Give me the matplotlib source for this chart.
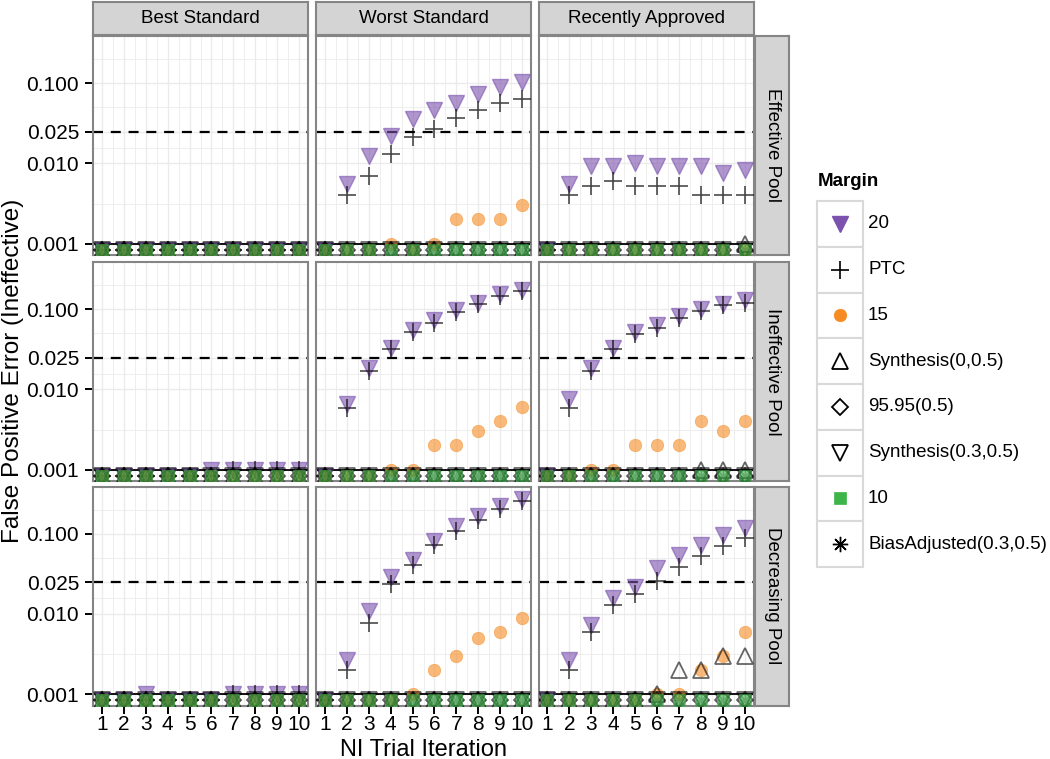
import numpy as np
import matplotlib.pyplot as plt
from matplotlib.patches import Rectangle

plt.rcParams['font.family'] = ['Liberation Sans', 'DejaVu Sans']

# ---- data -------------------------------------------------------------
iterations = np.arange(1, 11)
col_labels = ["Best Standard", "Worst Standard", "Recently Approved"]
row_labels = ["Effective Pool", "Ineffective Pool", "Decreasing Pool"]
margins = ["20", "PTC", "15", "Synthesis(0,0.5)", "95.95(0.5)",
           "Synthesis(0.3,0.5)", "10", "BiasAdjusted(0.3,0.5)"]

# each margin: 9 panels, row-major (Effective, Ineffective, Decreasing) x
# (Best, Worst, Recently Approved); 0 means no false positives
Z = [0, 0, 0, 0, 0, 0, 0, 0, 0, 0]

m20 = [
    Z,
    [0, 0.0055, 0.0123, 0.0219, 0.0358, 0.047, 0.057, 0.073, 0.089, 0.104],
    [0, 0.0055, 0.0094, 0.0094, 0.0102, 0.0093, 0.0093, 0.0093, 0.0076, 0.0083],
    [0, 0, 0, 0, 0, 0.001, 0.001, 0.001, 0.001, 0.001],
    [0, 0.0065, 0.0187, 0.0332, 0.055, 0.073, 0.098, 0.121, 0.154, 0.173],
    [0, 0.0075, 0.0187, 0.0332, 0.052, 0.063, 0.083, 0.100, 0.118, 0.131],
    [0, 0, 0.001, 0, 0, 0, 0.001, 0.001, 0.001, 0.001],
    [0, 0.0027, 0.011, 0.0287, 0.047, 0.081, 0.124, 0.166, 0.220, 0.274],
    [0, 0.0027, 0.0073, 0.0157, 0.022, 0.038, 0.055, 0.0735, 0.098, 0.118],
]
ptc = [
    Z,
    [0, 0.004, 0.0069, 0.0132, 0.0213, 0.027, 0.0365, 0.047, 0.057, 0.063],
    [0, 0.004, 0.0052, 0.006, 0.0052, 0.0052, 0.0052, 0.004, 0.004, 0.004],
    [0, 0, 0, 0, 0, 0, 0.001, 0.001, 0.001, 0.001],
    [0, 0.0059, 0.0168, 0.0322, 0.0516, 0.0675, 0.0917, 0.1155, 0.147, 0.168],
    [0, 0.0059, 0.0168, 0.032, 0.0487, 0.058, 0.078, 0.095, 0.112, 0.120],
    [0, 0, 0, 0, 0, 0, 0.001, 0.001, 0.001, 0.001],
    [0, 0.002, 0.0078, 0.0237, 0.041, 0.072, 0.109, 0.151, 0.205, 0.256],
    [0, 0.002, 0.006, 0.013, 0.0176, 0.026, 0.0387, 0.053, 0.071, 0.088],
]
m15 = [
    Z,
    [0, 0, 0, 0.001, 0, 0.001, 0.002, 0.002, 0.002, 0.003],
    Z,
    Z,
    [0, 0, 0, 0.001, 0.001, 0.002, 0.002, 0.003, 0.004, 0.006],
    [0, 0, 0.001, 0.001, 0.002, 0.002, 0.002, 0.004, 0.003, 0.004],
    Z,
    [0, 0, 0, 0, 0.001, 0.002, 0.003, 0.005, 0.006, 0.009],
    [0, 0, 0, 0, 0, 0.001, 0.001, 0.002, 0.003, 0.006],
]
syn0 = [
    Z,
    Z,
    [0, 0, 0, 0, 0, 0, 0, 0, 0, 0.001],
    Z,
    Z,
    [0, 0, 0, 0, 0, 0, 0, 0.001, 0.001, 0.001],
    Z,
    Z,
    [0, 0, 0, 0, 0, 0.001, 0.002, 0.002, 0.003, 0.003],
]
m9595 = [Z, Z, Z, Z, Z, Z, Z, Z, Z]
syn03 = [Z, Z, Z, Z, Z, Z, Z, Z, Z]
m10 = [Z, Z, Z, Z, Z, Z, Z, Z, Z]
bias = [Z, Z, Z, Z, Z, Z, Z, Z, Z]

series = [m20, ptc, m15, syn0, m9595, syn03, m10, bias]

# ---- styles -----------------------------------------------------------
purple = '#7b52ae'
orange = '#f58b23'
green = '#3db54a'
styles = [
    dict(marker='v', ms=12, mfc=purple, mec=purple, mew=1.0),
    dict(marker='+', ms=13.5, mfc='none', mec='black', mew=1.2),
    dict(marker='o', ms=9, mfc=orange, mec=orange, mew=0.5),
    dict(marker='^', ms=11.5, mfc='none', mec='black', mew=1.3),
    dict(marker='D', ms=8.5, mfc='none', mec='black', mew=1.3),
    dict(marker='v', ms=11.5, mfc='none', mec='black', mew=1.3),
    dict(marker='s', ms=8.5, mfc=green, mec=green, mew=0.5),
    dict(marker=(8, 2, 0), ms=11, mfc='none', mec='black', mew=1.0),
]
alphas = [0.6, 0.7, 0.6, 0.6, 0.6, 0.6, 0.6, 0.35]
# green squares go on top so the zero clumps look olive like the original
draw_order = [0, 1, 2, 3, 4, 5, 7, 6]

ZERO_LEVEL = 0.00084
YLIM = (0.00072, 0.39)
major_y = [0.001, 0.01, 0.025, 0.1]
major_labels = ['0.001', '0.010', '0.025', '0.100']
minor_y = [10 ** -2.5, 10 ** -1.801, 10 ** -1.301, 10 ** -0.699]

W, H = 1050, 759


def box(l, t, w, h):
    return [l / W, 1 - (t + h) / H, w / W, h / H]


fig = plt.figure(figsize=(W / 100, H / 100), dpi=100)

col_left = [93, 316, 538.5]
row_top = [36, 262, 486.5]
pw, ph = 215, 219
edge = '#858585'
strip_fill = '#d4d4d4'

for r in range(3):
    for c in range(3):
        ax = fig.add_axes(box(col_left[c], row_top[r], pw, ph))
        ax.set_yscale('log')
        ax.set_xlim(0.59, 10.41)
        ax.set_ylim(*YLIM)
        for x in iterations:
            ax.axvline(x, color='#ebebeb', lw=1.0, zorder=0)
            ax.axvline(x + 0.5, color='#ebebeb', lw=0.6, zorder=0)
        for y in major_y:
            ax.axhline(y, color='#ebebeb', lw=1.0, zorder=0)
        for y in minor_y:
            ax.axhline(y, color='#ebebeb', lw=0.6, zorder=0)
        ax.axhline(0.001, color='black', lw=1.3, zorder=1)
        ax.axhline(0.025, color='black', lw=1.6, dashes=(4.5, 3.5), zorder=1)

        k = r * 3 + c
        for i in draw_order:
            v = np.array(series[i][k], dtype=float)
            v = np.where(v == 0, ZERO_LEVEL, v)
            ax.plot(iterations, v, ls='none', alpha=alphas[i], zorder=3,
                    **styles[i])

        for s in ax.spines.values():
            s.set_color(edge)
            s.set_linewidth(1.5)
        ax.set_yticks(major_y)
        ax.set_yticklabels(major_labels)
        ax.yaxis.set_minor_locator(plt.NullLocator())
        ax.set_xticks(iterations)
        ax.tick_params(axis='both', length=6, width=1.4, color='black',
                       labelsize=15, labelcolor='black')
        ax.tick_params(axis='y', pad=4)
        ax.tick_params(axis='x', pad=1)
        if c != 0:
            ax.tick_params(axis='y', left=False, labelleft=False)
        if r != 2:
            ax.tick_params(axis='x', bottom=False, labelbottom=False)

# column strips
for c in range(3):
    sa = fig.add_axes(box(col_left[c], 2, pw, 33))
    sa.set_facecolor(strip_fill)
    sa.set_xticks([])
    sa.set_yticks([])
    for s in sa.spines.values():
        s.set_color(edge)
        s.set_linewidth(1.5)
    sa.text(0.5, 0.5, col_labels[c], ha='center', va='center', fontsize=13.5,
            transform=sa.transAxes)

# row strips
for r in range(3):
    sa = fig.add_axes(box(755, row_top[r], 34, ph))
    sa.set_facecolor(strip_fill)
    sa.set_xticks([])
    sa.set_yticks([])
    for s in sa.spines.values():
        s.set_color(edge)
        s.set_linewidth(1.5)
    sa.text(0.5, 0.5, row_labels[r], ha='center', va='center', fontsize=13.5,
            rotation=-90, transform=sa.transAxes)

fig.text(13 / W, 1 - 371 / H, 'False Positive Error (Ineffective)', rotation=90,
         ha='center', va='center', fontsize=17.5)
fig.text(423 / W, 1 - 755.5 / H, 'NI Trial Iteration', ha='center',
         va='baseline', fontsize=17)

# legend, drawn in pixel space
lg = fig.add_axes([0, 0, 1, 1], zorder=5)
lg.set_xlim(0, W)
lg.set_ylim(H, 0)
lg.axis('off')
lg.text(818, 181, 'Margin', fontsize=13.5, fontweight='bold', va='center')
key_h = 45.75
for i, (name, st) in enumerate(zip(margins, styles)):
    top = 201 + i * key_h
    lg.add_patch(Rectangle((817, top), 46, key_h, facecolor='white',
                           edgecolor='#d9d9d9', lw=1.5))
    lg.plot([840], [top + key_h / 2], ls='none', **st)
    lg.text(868, top + key_h / 2, name, fontsize=13.5, va='center')

fig.savefig('out.png', dpi=100)
